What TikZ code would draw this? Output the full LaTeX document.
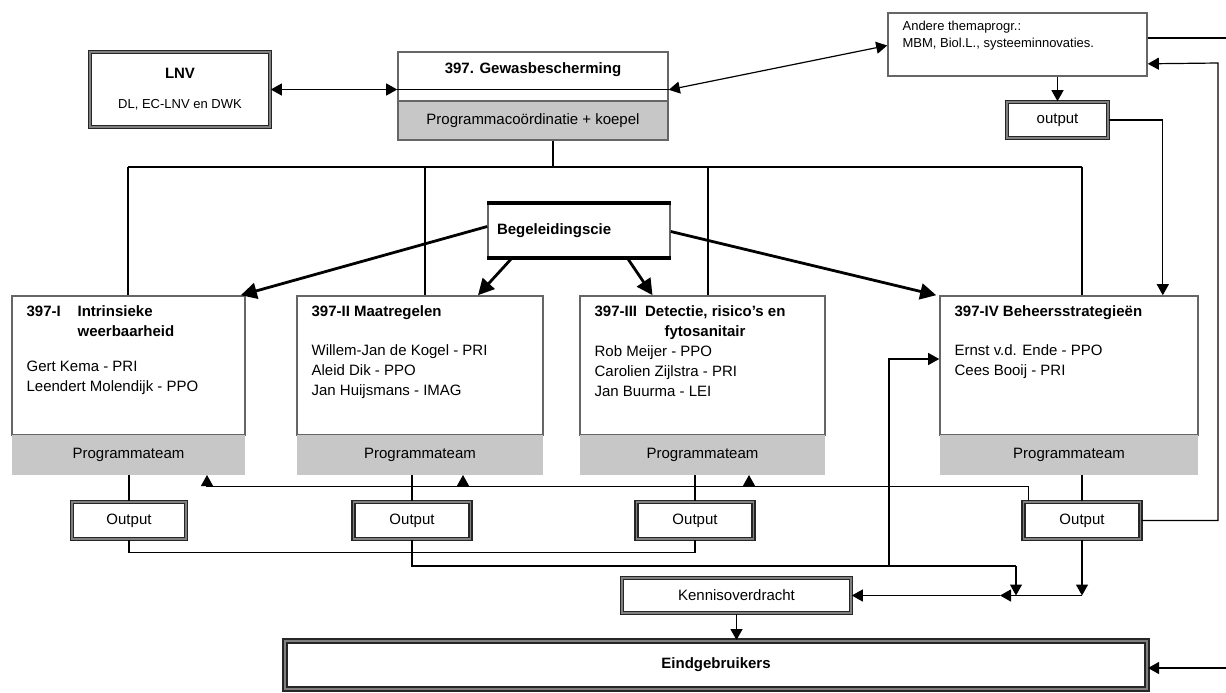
\documentclass[tikz,border=0pt]{standalone}
\usepackage{fontspec}
\setmainfont{Liberation Sans}
\usetikzlibrary{arrows.meta,calc}

\tikzset{
  box/.style={draw=black!60, line width=0.8pt, fill=white, inner sep=0pt},
  teamband/.style={fill=black!22, inner sep=0pt},
  heavybox/.style={draw=black!85, double=black!50, double distance=0.8pt, line width=0.8pt, inner sep=0pt},
  boxtext/.style={anchor=north west, align=left, inner sep=0pt},
  conn/.style={line width=0.6pt},
  arr/.style={conn, -{Triangle[length=5.5pt,width=6pt]}},
  biarr/.style={conn, {Triangle[length=5.5pt,width=6pt]}-{Triangle[length=5.5pt,width=6pt]}},
  boldarr/.style={line width=1.4pt, -{Triangle[length=8pt,width=8pt]}},
}

\begin{document}
\begin{tikzpicture}[x=0.5pt, y=-0.5pt, font=\fontsize{7.5}{10}\selectfont]
    \useasboundingbox (0,0) rectangle (1226,692);

    \node[heavybox, fill=white, minimum width=90pt, minimum height=37.5pt, align=center] (lnv) at (180,89.5)
      {\textbf{LNV}\\[5pt]{\fontsize{6.5}{8}\selectfont DL, EC-LNV en DWK}};

    \node[box, minimum width=135pt, minimum height=24.5pt] (gewas) at (533,76.5) {};
    \node[font=\fontsize{7.5}{10}\bfseries] (gewastitle) at (533,70) {397. Gewasbescherming};
    \node[teamband, draw=black!60, line width=0.8pt, minimum width=135pt, minimum height=19.5pt] (koepel) at (533,120.5)
      {Programmacoördinatie + koepel};
    \draw[conn] ($(gewas.south west)+(0,-12)$) -- ($(gewas.south east)+(0,-12)$);

    \node[box, minimum width=129.5pt, minimum height=31.5pt] (andere) at (1017.5,44.5) {};
    \node[boxtext, font=\fontsize{6.5}{8.5}\selectfont] (anderetext) at ($(andere.north west)+(15,8)$)
      {Andere themaprogr.:\\MBM, Biol.L., systeeminnovaties.};
    \node[heavybox, fill=white, minimum width=50.5pt, minimum height=18pt] (output0) at (1057.5,120) {output};

    \draw[biarr] (lnv.east) -- (lnv.east -| gewas.west);
    \draw[biarr] ($(gewas.south east)+(0,-12)$) -- ($(andere.west)+(0,1)$);
    \draw[arr] (output0.north |- andere.south) -- (output0.north);

    \node[box, minimum width=91pt, minimum height=26.5pt, text width=82pt, align=left, font=\fontsize{7.5}{10}\bfseries] (begel) at (579,230.5) {Begeleidingscie};
    \draw[line width=1.8pt] (begel.north west) -- (begel.north east);
    \draw[line width=1.8pt] (begel.south west) -- (begel.south east);

    % programma's
    \node[box, minimum width=116.5pt, minimum height=69.5pt] (box1) at (128.5,365.5) {};
    \node[box, minimum width=123pt, minimum height=69.5pt] (box2) at (420,365.5) {};
    \node[box, minimum width=122.5pt, minimum height=69.5pt] (box3) at (702.5,365.5) {};
    \node[box, minimum width=129pt, minimum height=69.5pt] (box4) at (1069,365.5) {};
    \node[teamband, minimum width=116.5pt, minimum height=20pt] (team1) at (128.5,455) {Programmateam};
    \node[teamband, minimum width=123pt, minimum height=20pt] (team2) at (420,455) {Programmateam};
    \node[teamband, minimum width=122.5pt, minimum height=20pt] (team3) at (702.5,455) {Programmateam};
    \node[teamband, minimum width=129pt, minimum height=20pt] (team4) at (1069,455) {Programmateam};

    \node[boxtext] (box1text) at ($(box1.north west)+(15,10)$)
      {\textbf{\makebox[25.5pt][l]{397-I}Intrinsieke}\\
       \textbf{\hspace{25.5pt}weerbaarheid}\\[7.5pt]
       Gert Kema - PRI\\
       Leendert Molendijk - PPO};
    \node[boxtext] (box2text) at ($(box2.north west)+(15,10)$)
      {\textbf{397-II Maatregelen}\\[9.5pt]
       Willem-Jan de Kogel - PRI\\
       Aleid Dik - PPO\\
       Jan Huijsmans - IMAG};
    \node[boxtext] (box3text) at ($(box3.north west)+(15,10)$)
      {\textbf{397-III\hspace{4pt}Detectie, risico's en}\\
       \textbf{\hspace{35pt}fytosanitair}\\
       Rob Meijer - PPO\\
       Carolien Zijlstra - PRI\\
       Jan Buurma - LEI};
    \node[boxtext] (box4text) at ($(box4.north west)+(15,10)$)
      {\textbf{397-IV Beheersstrategieën}\\[9.5pt]
       Ernst v.d. Ende - PPO\\
       Cees Booij - PRI};

    % koepel naar programma's
    \coordinate (stem) at (553,167);
    \coordinate (b1) at (128,167);
    \coordinate (b2) at (425,167);
    \coordinate (b3) at (708,167);
    \coordinate (b4) at (1082,167);
    \draw[conn] (koepel.south -| stem) -- (stem);
    \draw[conn] (b1) -- (b4);
    \draw[conn] (b1) -- (b1 |- box1.north);
    \draw[conn] (b2) -- (b2 |- box2.north);
    \draw[conn] (b3) -- (b3 |- box3.north);
    \draw[conn] (b4) -- (b4 |- box4.north);

    \draw[boldarr] ($(begel.west)+(0,-4)$) -- ($(box1.north east)+(-5,0)$);
    \draw[boldarr] ($(begel.south west)+(25,0)$) -- ($(box2.north)+(58,0)$);
    \draw[boldarr] ($(begel.south west)+(140,0)$) -- ($(box3.north)+(-50,0)$);
    \draw[boldarr] ($(begel.east)+(0,1)$) -- ($(box4.north west)+(-3,0)$);

    \draw[arr] (output0.east) -| ($(box4.north east)+(-36,0)$);

    % output
    \node[heavybox, fill=white, minimum width=57pt, minimum height=18.5pt] (out1) at (129,520.5) {Output};
    \node[heavybox, fill=white, minimum width=58.5pt, minimum height=18.5pt] (out2) at (412,520.5) {Output};
    \node[heavybox, fill=white, minimum width=58.5pt, minimum height=18.5pt] (out3) at (695,520.5) {Output};
    \node[heavybox, fill=white, minimum width=58.5pt, minimum height=18.5pt] (out4) at (1082,520.5) {Output};
    \draw[conn] (out1.north |- team1.south) -- (out1.north);
    \draw[conn] (out2.north |- team2.south) -- (out2.north);
    \draw[conn] (out3.north |- team3.south) -- (out3.north);
    \draw[conn] (out4.north |- team4.south) -- (out4.north);

    \coordinate (fb) at ($(out4.north west)+(6,-15)$);
    \coordinate (up1) at (207,475);
    \coordinate (up2) at (463,475);
    \coordinate (up3) at (749,475);
    \draw[conn] ($(out4.north west)+(6,0)$) |- (up1 |- fb);
    \draw[arr] (up1 |- fb) -- (up1);
    \draw[arr] (up2 |- fb) -- (up2);
    \draw[arr] (up3 |- fb) -- (up3);

    \node[heavybox, fill=white, minimum width=114.5pt, minimum height=17.5pt] (kennis) at (736.5,595.5) {Kennisoverdracht};
    \node[heavybox, fill=white, line width=1pt, minimum width=431pt, minimum height=24pt, font=\fontsize{7.5}{10}\bfseries] (eind) at (716,665) {Eindgebruikers};

    \coordinate (drop2) at (1016,566);
    \coordinate (mid) at (889,566);
    \coordinate (rr) at (1218,63);
    \coordinate (edge1) at (1226,38);
    \coordinate (edge2) at (1226,668);
    \draw[conn] (out1.south) |- ($(out3.south)+(0,13)$) -- (out3.south);
    \draw[conn] (out2.south) |- (drop2);
    \draw[arr] (drop2) -- (drop2 |- kennis.east);
    \draw[arr] (mid) |- ($(box4.west)+(0,-6.5)$);
    \draw[arr] (out4.south) -- (out4.south |- kennis.east);
    \draw[arr] (out4.south |- kennis.east) -- ($(drop2 |- kennis.east)+(-16,0)$);
    \draw[arr] ($(drop2 |- kennis.east)+(-16,0)$) -- (kennis.east);
    \draw[arr] (kennis.south) -- (kennis.south |- eind.north);

    \draw[arr] (out4.east) -| (rr) -- ($(andere.south east)+(0,-13)$);
    \draw[conn] (edge1 -| andere.east) -- (edge1);
    \draw[arr] (edge2) -- (eind.east |- edge2);
\end{tikzpicture}
\end{document}
